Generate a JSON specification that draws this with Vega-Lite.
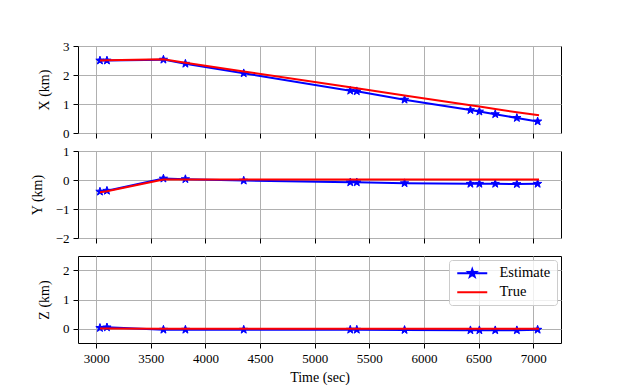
{
  "$schema": "https://vega.github.io/schema/vega-lite/v6.json",
  "padding": {"left": 29, "top": 39, "right": 5, "bottom": 5},
  "background": "white",
  "datasets": {
    "traj": [
      {"t": 3034, "series": "Estimate", "X": 2.50, "Y": -0.40, "Z": 0.02},
      {"t": 3098, "series": "Estimate", "X": 2.50, "Y": -0.37, "Z": 0.04},
      {"t": 3615, "series": "Estimate", "X": 2.53, "Y": 0.05, "Z": -0.04},
      {"t": 3816, "series": "Estimate", "X": 2.39, "Y": 0.03, "Z": -0.04},
      {"t": 4350, "series": "Estimate", "X": 2.06, "Y": -0.02, "Z": -0.04},
      {"t": 5325, "series": "Estimate", "X": 1.46, "Y": -0.08, "Z": -0.04},
      {"t": 5385, "series": "Estimate", "X": 1.44, "Y": -0.08, "Z": -0.04},
      {"t": 5822, "series": "Estimate", "X": 1.15, "Y": -0.11, "Z": -0.05},
      {"t": 6425, "series": "Estimate", "X": 0.79, "Y": -0.13, "Z": -0.06},
      {"t": 6507, "series": "Estimate", "X": 0.74, "Y": -0.13, "Z": -0.06},
      {"t": 6652, "series": "Estimate", "X": 0.65, "Y": -0.13, "Z": -0.06},
      {"t": 6850, "series": "Estimate", "X": 0.52, "Y": -0.14, "Z": -0.06},
      {"t": 7040, "series": "Estimate", "X": 0.40, "Y": -0.13, "Z": -0.04},
      {"t": 3034, "series": "True", "X": 2.50, "Y": -0.42, "Z": 0.00},
      {"t": 3098, "series": "True", "X": 2.505, "Y": -0.39, "Z": 0.00},
      {"t": 3615, "series": "True", "X": 2.54, "Y": 0.02, "Z": -0.01},
      {"t": 3816, "series": "True", "X": 2.425, "Y": 0.02, "Z": -0.01},
      {"t": 4350, "series": "True", "X": 2.124, "Y": 0.02, "Z": -0.01},
      {"t": 5325, "series": "True", "X": 1.575, "Y": 0.02, "Z": -0.01},
      {"t": 5385, "series": "True", "X": 1.54, "Y": 0.02, "Z": -0.01},
      {"t": 5822, "series": "True", "X": 1.296, "Y": 0.02, "Z": -0.01},
      {"t": 6425, "series": "True", "X": 0.955, "Y": 0.02, "Z": -0.01},
      {"t": 6507, "series": "True", "X": 0.91, "Y": 0.02, "Z": -0.01},
      {"t": 6652, "series": "True", "X": 0.828, "Y": 0.02, "Z": -0.01},
      {"t": 6850, "series": "True", "X": 0.716, "Y": 0.02, "Z": -0.01},
      {"t": 7053, "series": "True", "X": 0.61, "Y": 0.02, "Z": -0.01}
    ],
    "legendkeys": [
      {"t": 0, "Z": 0, "series": "Estimate"},
      {"t": 0, "Z": 0, "series": "True"}
    ]
  },
  "config": {
    "font": "Liberation Serif",
    "view": {"stroke": "black", "strokeWidth": 1},
    "axis": {
      "labelFont": "Liberation Serif", "labelFontSize": 13, "labelColor": "black",
      "titleFont": "Liberation Serif", "titleFontSize": 14, "titleFontWeight": "normal", "titleColor": "black",
      "grid": true, "gridColor": "#b0b0b0", "gridWidth": 1,
      "tickColor": "black", "tickSize": 5, "tickWidth": 1, "domain": false, "labelPadding": 4, "labelOverlap": false
    },
    "axisY": {"titlePadding": 11},
    "axisX": {"titlePadding": 5},
    "legend": {"title": null, "orient": "top-right", "offset": 4, "fillColor": "rgba(255,255,255,0.8)", "strokeColor": "#cccccc", "cornerRadius": 3, "padding": 6,
               "labelFont": "Liberation Serif", "labelFontSize": 14.5, "labelColor": "black", "labelOffset": 30, "symbolSize": 100, "symbolStrokeWidth": 2, "rowPadding": 3}
  },
  "resolve": {"scale": {"color": "independent", "fill": "independent", "stroke": "independent", "shape": "independent"}, "legend": {"color": "independent", "fill": "independent", "stroke": "independent", "shape": "independent"}},
  "vconcat": [
    {
      "width": 483, "height": 87,
      "data": {"name": "traj"},
      "encoding": {
        "x": {"field": "t", "type": "quantitative", "scale": {"domain": [2833, 7254], "nice": false, "zero": false}, "axis": {"values": [3000,3500,4000,4500,5000,5500,6000,6500,7000], "labels": false, "title": null}},
        "y": {"field": "X", "type": "quantitative", "scale": {"domain": [0, 3], "nice": false, "zero": false}, "axis": {"values": [0,1,2,3], "title": "X (km)"}}
      },
      "layer": [
        {"transform": [{"filter": "datum.series === 'Estimate'"}], "mark": {"type": "line", "color": "blue", "strokeWidth": 2}},
        {"transform": [{"filter": "datum.series === 'Estimate'"}], "mark": {"type": "point", "filled": true, "color": "blue", "stroke": "blue", "strokeWidth": 1, "opacity": 1, "size": 75, "shape": "M0,-1L0.235,-0.324L0.951,-0.309L0.38,0.124L0.588,0.809L0,0.4L-0.588,0.809L-0.38,0.124L-0.951,-0.309L-0.235,-0.324Z"}},
        {"transform": [{"filter": "datum.series === 'True'"}], "mark": {"type": "line", "color": "red", "strokeWidth": 2}}
      ]
    },
    {
      "width": 483, "height": 87,
      "data": {"name": "traj"},
      "encoding": {
        "x": {"field": "t", "type": "quantitative", "scale": {"domain": [2833, 7254], "nice": false, "zero": false}, "axis": {"values": [3000,3500,4000,4500,5000,5500,6000,6500,7000], "labels": false, "title": null}},
        "y": {"field": "Y", "type": "quantitative", "scale": {"domain": [-2, 1], "nice": false, "zero": false}, "axis": {"values": [-2,-1,0,1], "title": "Y (km)"}}
      },
      "layer": [
        {"transform": [{"filter": "datum.series === 'Estimate'"}], "mark": {"type": "line", "color": "blue", "strokeWidth": 2}},
        {"transform": [{"filter": "datum.series === 'Estimate'"}], "mark": {"type": "point", "filled": true, "color": "blue", "stroke": "blue", "strokeWidth": 1, "opacity": 1, "size": 75, "shape": "M0,-1L0.235,-0.324L0.951,-0.309L0.38,0.124L0.588,0.809L0,0.4L-0.588,0.809L-0.38,0.124L-0.951,-0.309L-0.235,-0.324Z"}},
        {"transform": [{"filter": "datum.series === 'True'"}], "mark": {"type": "line", "color": "red", "strokeWidth": 2}}
      ]
    },
    {
      "width": 483, "height": 87,
      "encoding": {
        "x": {"field": "t", "type": "quantitative", "scale": {"domain": [2833, 7254], "nice": false, "zero": false}, "axis": {"values": [3000,3500,4000,4500,5000,5500,6000,6500,7000], "format": "d", "title": "Time (sec)"}},
        "y": {"field": "Z", "type": "quantitative", "scale": {"domain": [-0.5, 2.5], "nice": false, "zero": false}, "axis": {"values": [0,1,2], "title": "Z (km)"}}
      },
      "layer": [
        {"data": {"name": "traj"}, "transform": [{"filter": "datum.series === 'Estimate'"}], "mark": {"type": "line", "color": "blue", "strokeWidth": 2}},
        {"data": {"name": "traj"}, "transform": [{"filter": "datum.series === 'Estimate'"}], "mark": {"type": "point", "filled": true, "color": "blue", "stroke": "blue", "strokeWidth": 1, "opacity": 1, "size": 75, "shape": "M0,-1L0.235,-0.324L0.951,-0.309L0.38,0.124L0.588,0.809L0,0.4L-0.588,0.809L-0.38,0.124L-0.951,-0.309L-0.235,-0.324Z"}},
        {"data": {"name": "traj"}, "transform": [{"filter": "datum.series === 'True'"}], "mark": {"type": "line", "color": "red", "strokeWidth": 2}},
        {"data": {"name": "legendkeys"}, "mark": {"type": "point", "filled": true, "clip": true, "size": 100, "strokeWidth": 2, "opacity": 1},
         "encoding": {
           "fill": {"field": "series", "type": "nominal", "title": null, "scale": {"domain": ["Estimate", "True"], "range": ["blue", "red"]}},
           "stroke": {"field": "series", "type": "nominal", "title": null, "scale": {"domain": ["Estimate", "True"], "range": ["blue", "red"]}},
           "shape": {"field": "series", "type": "nominal", "title": null, "scale": {"domain": ["Estimate", "True"], "range": ["M-1,0H5M2,-0.8L2.188,-0.259L2.761,-0.247L2.304,0.099L2.47,0.647L2,0.32L1.53,0.647L1.696,0.099L1.239,-0.247L1.812,-0.259Z", "M-1,0H5"]}}
         }}
      ]
    }
  ],
  "spacing": 18,
  "bounds": "flush"
}
